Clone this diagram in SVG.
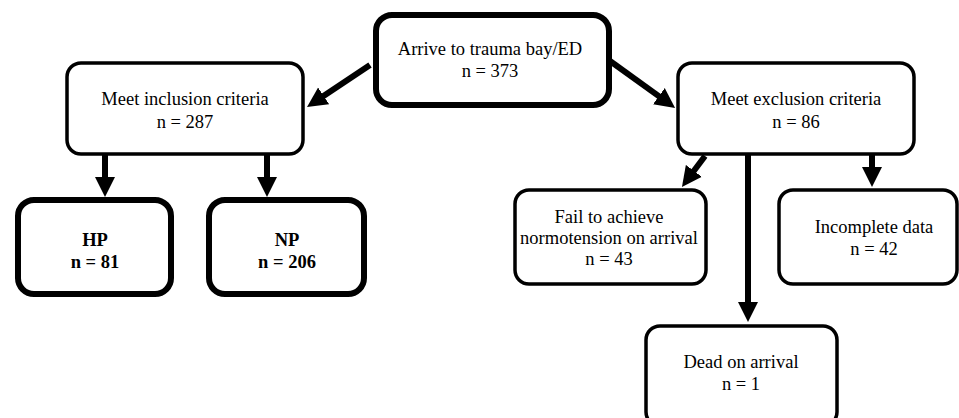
<svg xmlns="http://www.w3.org/2000/svg" width="959" height="418" viewBox="0 0 959 418">
<style>
.box{fill:#fff;stroke:#000;stroke-width:3.5}
.thick{stroke-width:6}
text{font-family:'Liberation Serif','DejaVu Serif',serif;font-size:18.5px;fill:#000;text-anchor:middle}
.b{font-weight:bold}
.arr{stroke:#000;stroke-width:6;fill:none;marker-end:url(#ah)}
</style>
<defs>
<marker id="ah" markerUnits="userSpaceOnUse" markerWidth="22" markerHeight="22" refX="2" refY="10" orient="auto" viewBox="0 0 22 20">
<path d="M0,0 L20,10 L0,20 Z" fill="#000"/>
</marker>
</defs>
<rect x="0" y="0" width="959" height="418" fill="#fff"/>
<g id="connectors">
<line class="arr" x1="370" y1="65" x2="322" y2="97"/>
<line class="arr" x1="610" y1="61" x2="660.5" y2="97.4"/>
<line class="arr" x1="105" y1="155" x2="105" y2="179"/>
<line class="arr" x1="267" y1="155" x2="267" y2="179"/>
<line class="arr" x1="705" y1="156" x2="692.7" y2="172.5"/>
<line class="arr" x1="748" y1="155" x2="748" y2="304"/>
<line class="arr" x1="872" y1="155" x2="872" y2="169"/>
</g>
<g font-family="Liberation Serif, serif">
<g id="arrive">
<rect class="box thick" x="376" y="15" width="233" height="90" rx="16"/>
<text x="490" y="55">Arrive to trauma bay/ED</text>
<text x="490" y="77">n = 373</text>
</g>
<g id="inclusion">
<rect class="box" x="67" y="63" width="236" height="91" rx="14"/>
<text x="185" y="105">Meet inclusion criteria</text>
<text x="185" y="128">n = 287</text>
</g>
<g id="exclusion">
<rect class="box" x="678" y="63" width="236" height="91" rx="14"/>
<text x="796" y="105">Meet exclusion criteria</text>
<text x="796" y="128">n = 86</text>
</g>
<g id="hp">
<rect class="box thick" x="18" y="200" width="153" height="94" rx="16"/>
<text class="b" x="95" y="246">HP</text>
<text class="b" x="95" y="268">n = 81</text>
</g>
<g id="np">
<rect class="box thick" x="209" y="200" width="155" height="94" rx="16"/>
<text class="b" x="287" y="246">NP</text>
<text class="b" x="287" y="268">n = 206</text>
</g>
<g id="fail">
<rect class="box" x="515" y="190" width="191" height="94" rx="14"/>
<text x="609" y="223">Fail to achieve</text>
<text x="609" y="244">normotension on arrival</text>
<text x="609" y="265">n = 43</text>
</g>
<g id="incomplete">
<rect class="box" x="779" y="190" width="178" height="94" rx="14"/>
<text x="874" y="233">Incomplete data</text>
<text x="874" y="255">n = 42</text>
</g>
<g id="dead">
<rect class="box" x="646" y="326" width="191" height="100" rx="14"/>
<text x="741" y="368">Dead on arrival</text>
<text x="741" y="390">n = 1</text>
</g>
</g>
</svg>
